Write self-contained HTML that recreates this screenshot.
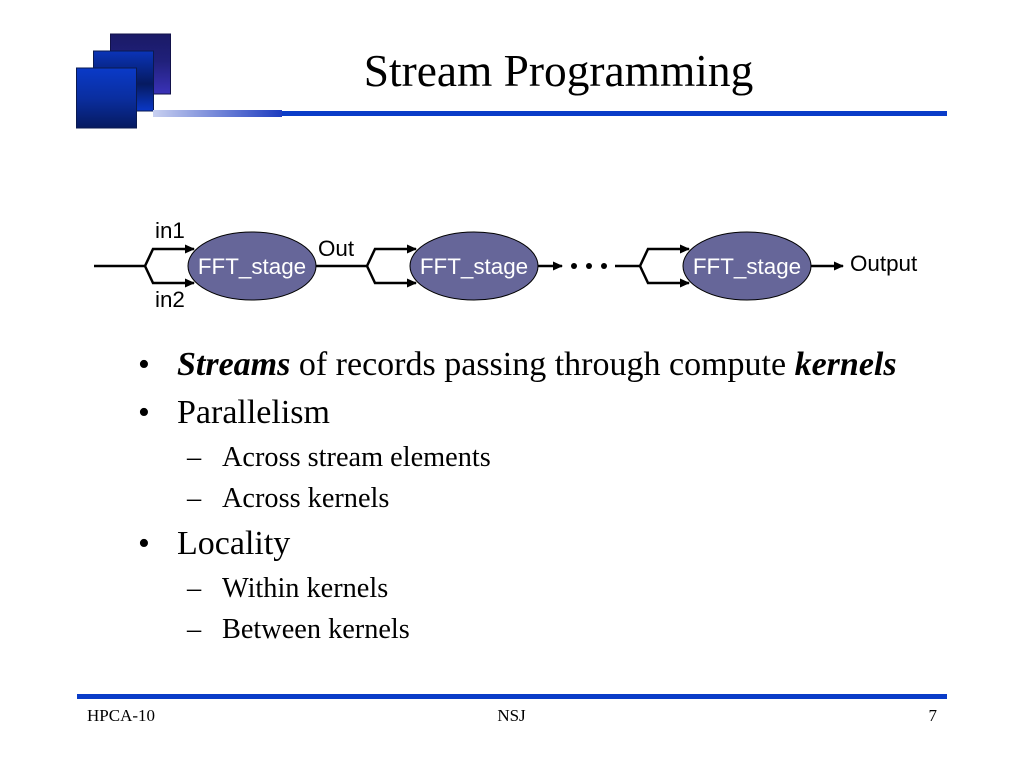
<!DOCTYPE html>
<html><head><meta charset="utf-8"><style>
html,body{margin:0;padding:0;background:#fff}
svg{display:block}
.s{font-family:"Liberation Sans",sans-serif}
.t{font-family:"Liberation Serif",serif;fill:#000}
</style></head><body>
<svg width="1024" height="768" viewBox="0 0 1024 768" xmlns="http://www.w3.org/2000/svg">
<defs>
<linearGradient id="g1" x1="0" y1="0" x2="0" y2="1"><stop offset="0" stop-color="#1a1a66"/><stop offset="0.45" stop-color="#20207a"/><stop offset="1" stop-color="#3a32b8"/></linearGradient>
<linearGradient id="g2" x1="0" y1="0" x2="0" y2="1"><stop offset="0" stop-color="#0a34b8"/><stop offset="0.55" stop-color="#061a60"/><stop offset="1" stop-color="#0a38c8"/></linearGradient>
<linearGradient id="g3" x1="0" y1="0" x2="0" y2="1"><stop offset="0" stop-color="#0a3ac8"/><stop offset="0.5" stop-color="#0a2ea0"/><stop offset="1" stop-color="#061a60"/></linearGradient>
<linearGradient id="bar" x1="0" y1="0" x2="1" y2="0"><stop offset="0" stop-color="#c8d0f0"/><stop offset="1" stop-color="#1e3cc0"/></linearGradient>
<marker id="a" markerWidth="10" markerHeight="9" refX="9" refY="4.500" orient="auto" markerUnits="userSpaceOnUse"><path d="M0 0L10 4.500L0 9z" fill="#000"/></marker>
</defs>

<rect x="110.500" y="34" width="60" height="60" fill="url(#g1)" stroke="#12124a" stroke-width="1"/>
<rect x="93.500" y="51" width="60" height="60" fill="url(#g2)" stroke="#0a1a50" stroke-width="1"/>
<rect x="76.500" y="68" width="60" height="60" fill="url(#g3)" stroke="#0a1a50" stroke-width="1"/>
<rect x="153" y="110" width="129" height="7" fill="url(#bar)"/>
<rect x="282" y="111" width="665" height="5" fill="#0a3cc8"/>
<text class="t" x="558.500" y="86" font-size="45.400" text-anchor="middle">Stream Programming</text>

<g fill="none" stroke="#000" stroke-width="2.500">
<path d="M94 266H145L153 249H194" marker-end="url(#a)"/>
<path d="M145 266L153 283H194" marker-end="url(#a)"/>
<path d="M316 266H367L375 249H416" marker-end="url(#a)"/>
<path d="M367 266L375 283H416" marker-end="url(#a)"/>
<path d="M538 266H562" marker-end="url(#a)"/>
<path d="M615 266H640L648 249H689" marker-end="url(#a)"/>
<path d="M640 266L648 283H689" marker-end="url(#a)"/>
<path d="M811 266H843" marker-end="url(#a)"/>
</g>
<circle cx="574" cy="266" r="3" fill="#000"/><circle cx="589" cy="266" r="3" fill="#000"/><circle cx="604" cy="266" r="3" fill="#000"/>
<g fill="#666699" stroke="#000" stroke-width="1">
<ellipse cx="252" cy="266" rx="64" ry="34"/>
<ellipse cx="474" cy="266" rx="64" ry="34"/>
<ellipse cx="747" cy="266" rx="64" ry="34"/>
</g>
<g class="s" font-size="22.400" fill="#fff" text-anchor="middle">
<text x="252" y="274">FFT_stage</text>
<text x="474" y="274">FFT_stage</text>
<text x="747" y="274">FFT_stage</text>
</g>
<g class="s" font-size="22.400" fill="#000">
<text x="155" y="238">in1</text>
<text x="155" y="307">in2</text>
<text x="318" y="256">Out</text>
<text x="850" y="271">Output</text>
</g>

<g class="t" font-size="34">
<text x="138" y="375">•</text>
<text x="177" y="375"><tspan font-weight="bold" font-style="italic">Streams</tspan> of records passing through compute <tspan font-weight="bold" font-style="italic">kernels</tspan></text>
<text x="138" y="423">•</text>
<text x="177" y="423">Parallelism</text>
<text x="138" y="554">•</text>
<text x="177" y="554">Locality</text>
</g>
<g class="t" font-size="28.300">
<text x="187" y="466">–</text><text x="222" y="466">Across stream elements</text>
<text x="187" y="507">–</text><text x="222" y="507">Across kernels</text>
<text x="187" y="597">–</text><text x="222" y="597">Within kernels</text>
<text x="187" y="638">–</text><text x="222" y="638">Between kernels</text>
</g>

<rect x="77" y="694" width="870" height="5" fill="#0a3cc8"/>
<g class="t" font-size="17">
<text x="87" y="721">HPCA-10</text>
<text x="511.500" y="721" text-anchor="middle">NSJ</text>
<text x="937" y="721" text-anchor="end">7</text>
</g>
</svg>
</body></html>
